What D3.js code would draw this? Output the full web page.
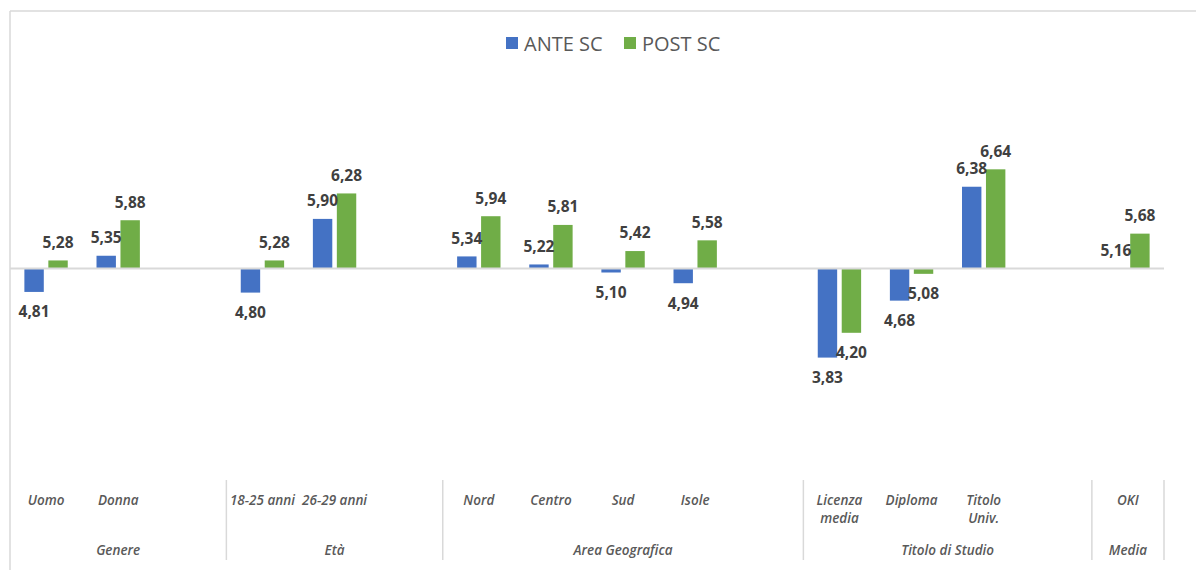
<!DOCTYPE html>
<html>
<head>
<meta charset="utf-8">
<script src="https://cdn.jsdelivr.net/npm/d3@7"></script>
<style>
  body { margin: 0; background: #fff; }
  svg text { font-family: 'Open Sans', 'Noto Sans', sans-serif; }
</style>
</head>
<body>
<div id="chart"></div>
<script>
// data
const categories = ['Uomo', 'Donna', '18-25 anni', '26-29 anni', 'Nord', 'Centro', 'Sud', 'Isole',
    'Licenza media', 'Diploma', 'Titolo Univ.', 'OKI']
const categoryGroup = ['Genere', 'Genere', 'Età', 'Età', 'Area Geografica', 'Area Geografica',
    'Area Geografica', 'Area Geografica', 'Titolo di Studio', 'Titolo di Studio', 'Titolo di Studio', 'Media']
const groups = ['Genere', 'Età', 'Area Geografica', 'Titolo di Studio', 'Media']
const series = ['ANTE SC', 'POST SC']
const ante = [4.81, 5.35, 4.80, 5.90, 5.34, 5.22, 5.10, 4.94, 3.83, 4.68, 6.38, 5.16]
const post = [5.28, 5.88, 5.28, 6.28, 5.94, 5.81, 5.42, 5.58, 4.20, 5.08, 6.64, 5.68]
const baseline = 5.16

const cfg = {
    w: 1196,
    h: 570,
    left: 10,
    right: 1164,
    colors: ['#4472c4', '#70ad47'],
    grid: '#d9d9d9',
    axisText: '#595959',
    labelText: '#404040'
}

// slots: each group's categories followed by one empty slot (except the last group)
const slots = []
groups.forEach((g, gi) => {
    categories.forEach((c, i) => { if (categoryGroup[i] === g) slots.push(g + '|' + c) })
    if (gi < groups.length - 1) slots.push(g + '|_gap')
})

const svg = d3.select('#chart').append('svg')
    .attr('width', cfg.w)
    .attr('height', cfg.h)

const x = d3.scaleBand().domain(slots).range([cfg.left, cfg.right])
const x1 = d3.scaleBand().domain(series).range([0, x.bandwidth()]).paddingInner(0.19).paddingOuter(0.6)
const y = d3.scaleLinear().domain([3, 7]).range([413.2, 145.2])

// frame
svg.append('line').attr('x1', cfg.left).attr('x2', cfg.w).attr('y1', 11).attr('y2', 11)
    .attr('stroke', cfg.grid).attr('stroke-width', 1.5)
svg.append('line').attr('x1', cfg.left).attr('x2', cfg.left).attr('y1', 11).attr('y2', cfg.h)
    .attr('stroke', cfg.grid).attr('stroke-width', 1.5)

// legend
const legendX = [506, 624]
series.forEach((s, i) => {
    svg.append('rect').attr('x', legendX[i]).attr('y', 37).attr('width', 12).attr('height', 12)
        .attr('fill', cfg.colors[i])
    svg.append('text').attr('x', legendX[i] + 18).attr('y', 50.5)
        .attr('font-size', 20).attr('fill', cfg.axisText).text(s)
})

const rows = categories.map((c, i) => ({ cat: c, slot: categoryGroup[i] + '|' + c, values: [ante[i], post[i]] }))

// bars
const bars = svg.append('g')
rows.forEach(r => {
    r.values.forEach((v, si) => {
        const y0 = y(baseline), y1 = y(v)
        bars.append('rect')
            .attr('x', x(r.slot) + x1(series[si]))
            .attr('y', Math.min(y0, y1))
            .attr('width', x1.bandwidth())
            .attr('height', Math.abs(y1 - y0))
            .attr('fill', cfg.colors[si])
    })
})

// baseline
svg.append('line').attr('x1', cfg.left).attr('x2', cfg.right)
    .attr('y1', y(baseline)).attr('y2', y(baseline))
    .attr('stroke', cfg.grid).attr('stroke-width', 2)

// data labels
const fmt = v => d3.format('.2f')(v).replace('.', ',')
rows.forEach(r => {
    r.values.forEach((v, si) => {
        const neg = v < baseline
        svg.append('text')
            .attr('x', x(r.slot) + x1(series[si]) + x1.bandwidth() / 2)
            .attr('y', neg ? y(v) + 20 : y(v) - 18)
            .attr('dy', '0.35em')
            .attr('text-anchor', 'middle')
            .attr('font-size', 15.5).attr('font-weight', 'bold')
            .attr('fill', cfg.labelText)
            .text(fmt(v))
    })
})

// category labels (multi level axis)
rows.forEach(r => {
    const lines = r.cat === 'Licenza media' ? ['Licenza', 'media']
        : r.cat === 'Titolo Univ.' ? ['Titolo', 'Univ.'] : [r.cat]
    const t = svg.append('text')
        .attr('text-anchor', 'middle')
        .attr('font-size', 13.5).attr('font-style', 'italic').attr('font-weight', 600)
        .attr('fill', cfg.axisText)
    lines.forEach((l, li) => {
        t.append('tspan').attr('x', x(r.slot) + x.bandwidth() / 2)
            .attr('y', 505 + li * 18).text(l)
    })
})

groups.forEach(g => {
    const gs = slots.filter(s => s.startsWith(g + '|'))
    const x0 = x(gs[0]), xEnd = x(gs[gs.length - 1]) + x.bandwidth()
    svg.append('text')
        .attr('x', (x0 + xEnd) / 2).attr('y', 555)
        .attr('text-anchor', 'middle')
        .attr('font-size', 13.5).attr('font-style', 'italic').attr('font-weight', 600)
        .attr('fill', cfg.axisText)
        .text(g)
    svg.append('line').attr('x1', xEnd).attr('x2', xEnd).attr('y1', 480).attr('y2', 560)
        .attr('stroke', cfg.grid).attr('stroke-width', 1.5)
})
</script>
</body>
</html>
